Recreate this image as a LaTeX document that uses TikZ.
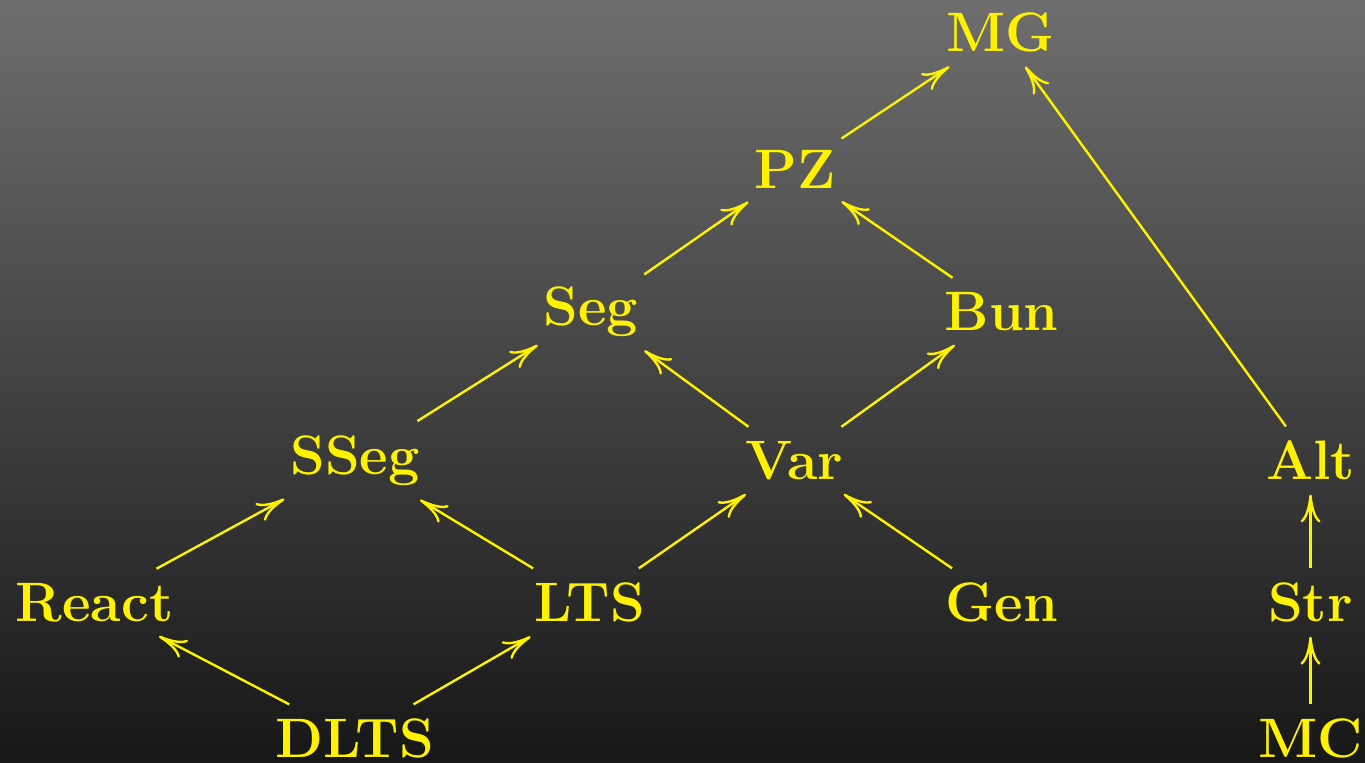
\documentclass[tikz,border=0pt]{standalone}
\usetikzlibrary{arrows.meta}
\definecolor{bgtop}{HTML}{6E6E6E}
\definecolor{bgbot}{HTML}{171717}
\begin{document}
\begin{tikzpicture}[x=0.5pt,y=-0.5pt,
  obj/.style={text=yellow, font=\fontsize{27.8}{31}\selectfont\bfseries,
    inner xsep=3pt, inner ysep=7.2pt, outer sep=0pt},
  arr/.style={draw=yellow, line width=1.2pt,
    -{Computer Modern Rightarrow[length=14pt,width=10pt]}}]
  % shaded backdrop
  \shade[top color=bgtop, bottom color=bgbot] (0,0) rectangle (1365,762);
  \useasboundingbox (0,0) rectangle (1365,762);

  % objects
  \node[obj] (MG)    at (1000.5, 32.5) {MG};
  \node[obj] (PZ)    at (795, 169.5)   {PZ};
  \node[obj] (Seg)   at (591, 311.5)   {Seg};
  \node[obj] (Bun)   at (1001.5, 311.5) {Bun};
  \node[obj] (SSeg)  at (355, 460.5)   {SSeg};
  \node[obj] (Var)   at (794.5, 460.5) {Var};
  \node[obj] (Alt)   at (1310.5, 460.5) {Alt};
  \node[obj] (React) at (94.5, 602.5)  {React};
  \node[obj] (LTS)   at (589.5, 602.5) {LTS};
  \node[obj] (Gen)   at (1002, 602.5)  {Gen};
  \node[obj] (Str)   at (1310.5, 602.5) {Str};
  \node[obj] (DLTS)  at (354.5, 738.5) {DLTS};
  \node[obj] (MC)    at (1310.5, 738.5) {MC};

  % morphisms
  \draw[arr] (DLTS) -- (React);
  \draw[arr] (DLTS) -- (LTS);
  \draw[arr] (React) -- (SSeg);
  \draw[arr] (LTS) -- (SSeg);
  \draw[arr] (LTS) -- (Var);
  \draw[arr] (Gen) -- (Var);
  \draw[arr] (SSeg) -- (Seg);
  \draw[arr] (Var) -- (Seg);
  \draw[arr] (Var) -- (Bun);
  \draw[arr] (Seg) -- (PZ);
  \draw[arr] (Bun) -- (PZ);
  \draw[arr] (PZ) -- (MG);
  \draw[arr] (Alt) -- (MG);
  \draw[arr] (Str) -- (Alt);
  \draw[arr] (MC) -- (Str);
\end{tikzpicture}
\end{document}
